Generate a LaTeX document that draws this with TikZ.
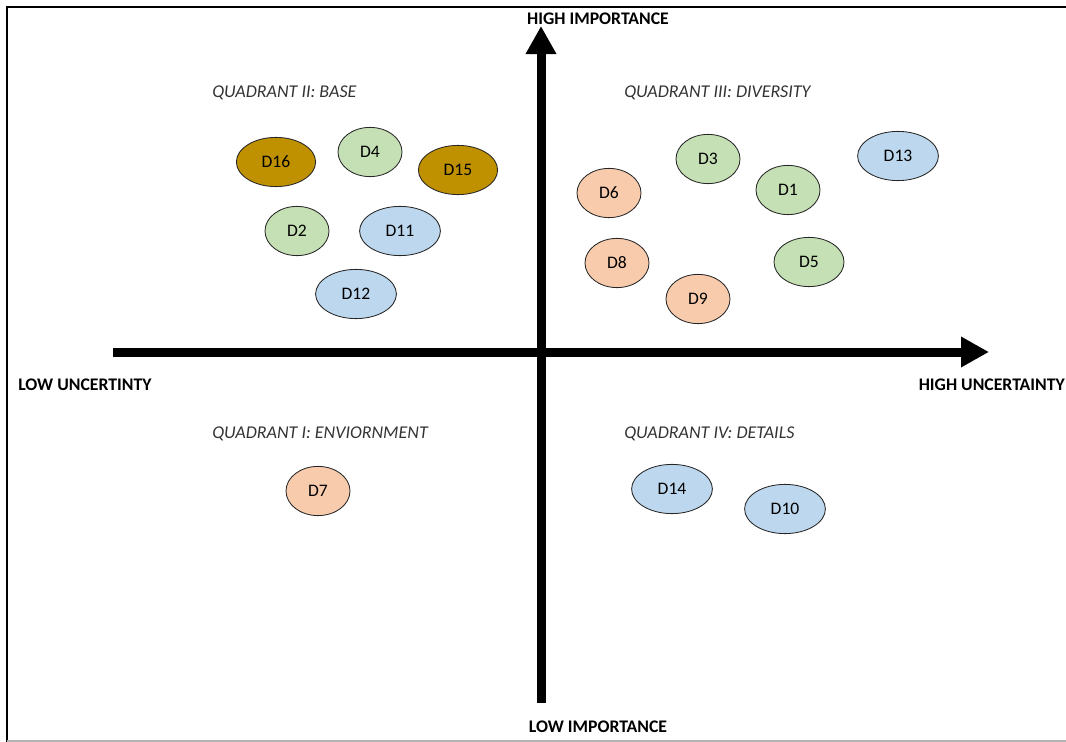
\documentclass[tikz,border=0pt]{standalone}
\usepackage{fontspec}
\setmainfont{Carlito}
\usetikzlibrary{shapes.geometric,arrows.meta}
\definecolor{dgreen}{HTML}{C5E0B4}
\definecolor{dblue}{HTML}{BDD7EE}
\definecolor{dorange}{HTML}{F8CBAD}
\definecolor{dgold}{HTML}{BF9000}
\begin{document}
\begin{tikzpicture}[x=0.025cm, y=-0.025cm,
    E/.style={ellipse, draw=black!85, line width=0.6pt, minimum height=1.23cm, inner sep=0pt, font=\fontsize{12.5}{14}\selectfont},
    G/.style={E, fill=dgreen, minimum width=1.6cm},
    B/.style={E, fill=dblue, minimum width=2.02cm},
    O/.style={E, fill=dorange, minimum width=1.6cm},
    Y/.style={E, fill=dgold, minimum width=1.98cm},
    axis/.style={line width=0.225cm, -{Triangle[length=0.7cm, width=0.72cm]}},
    lab/.style={font=\fontsize{12.6}{14}\selectfont\bfseries, inner sep=0pt},
    quad/.style={font=\fontsize{12.8}{14}\selectfont\itshape, text=black!80, anchor=west, inner sep=0pt}]

    \useasboundingbox (0,0) rectangle (1066,742);

    % Cornice
    \draw[line width=1.6pt] (1066,7) -- (7,7) -- (7,742);
    \draw[gray!60, line width=1pt] (7,741) -- (1066,741);

    % Assi
    \coordinate (xl) at (113,352);
    \coordinate (xr) at (989,352);
    \coordinate (yb) at (541,703);
    \coordinate (yt) at (541,26);
    \draw[axis] (xl) -- (xr);
    \draw[axis] (yb) -- (yt);

    \node[lab] (hi) at (598,19) {HIGH IMPORTANCE};
    \node[lab] (lo) at (598,727) {LOW IMPORTANCE};
    \node[lab, anchor=west] (lu) at (18,385) {LOW UNCERTINTY};
    \node[lab, anchor=east] (hu) at (1065,385) {HIGH UNCERTAINTY};

    % Quadranti
    \node[quad] (q2) at (212,93) {QUADRANT II: BASE};
    \node[quad] (q3) at (624,93) {QUADRANT III: DIVERSITY};
    \node[quad] (q1) at (212,434) {QUADRANT I: ENVIORNMENT};
    \node[quad] (q4) at (624,434) {QUADRANT IV: DETAILS};

    % Driver
    \foreach \n/\x/\y in {D4/370/152, D2/297/231, D3/708/159, D1/788/190} {
      \node[G] (\n) at (\x,\y) {\n};
    }
    \node[G, minimum width=1.75cm] (D5) at (809,262) {D5};
    \foreach \n/\x/\y in {D11/400/231, D12/356/294, D13/898/156, D14/672/489, D10/785/509} {
      \node[B] (\n) at (\x,\y) {\n};
    }
    \foreach \n/\x/\y in {D6/609/193, D8/617/263, D9/698/299, D7/318/491} {
      \node[O] (\n) at (\x,\y) {\n};
    }
    \foreach \n/\x/\y in {D16/276/162, D15/458/170} {
      \node[Y] (\n) at (\x,\y) {\n};
    }
  \end{tikzpicture}
\end{document}
